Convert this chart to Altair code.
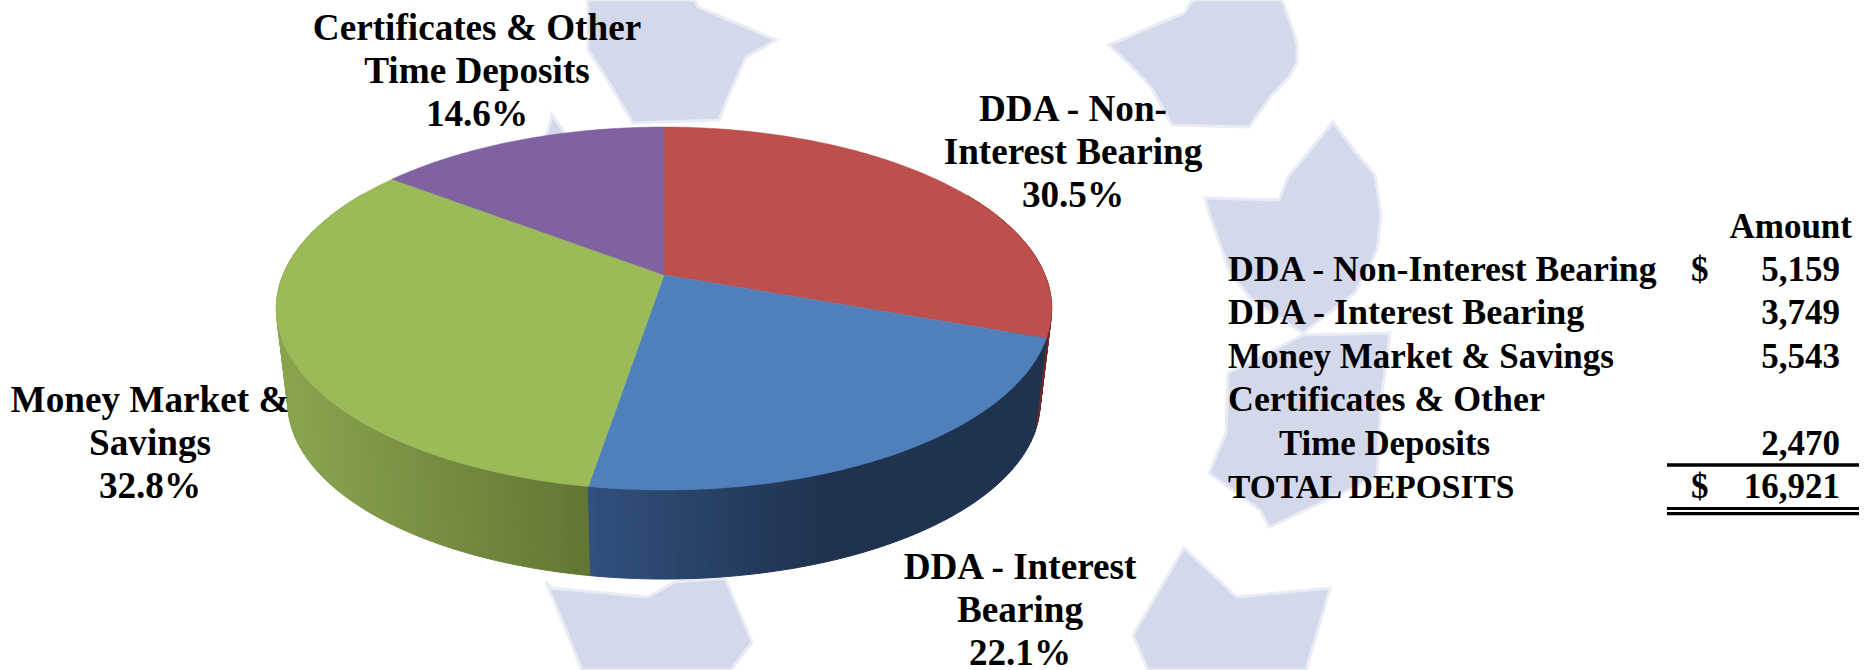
import math
import altair as alt

# Deposit mix, clockwise from twelve o'clock
slice_names = ["DDA - Non-Interest Bearing", "DDA - Interest Bearing",
               "Money Market & Savings", "Certificates & Other Time Deposits"]
slice_shares = [30.5, 22.1, 32.8, 14.6]
top_colors = ["#bd504d", "#4f80bc", "#9bbb59", "#8062a0"]

# Table contents
table_labels = ["DDA - Non-Interest Bearing", "DDA - Interest Bearing",
                "Money Market & Savings", "Certificates & Other",
                "Time Deposits", "TOTAL DEPOSITS"]
table_amounts = ["5,159", "3,749", "5,543", "", "2,470", "16,921"]
table_dollars = ["$", "", "", "", "", "$"]

# Slice captions: one entry per line
caption_lines = [
    ["DDA - Non-", "Interest Bearing", "30.5%"],
    ["DDA - Interest", "Bearing", "22.1%"],
    ["Money Market &", "Savings", "32.8%"],
    ["Certificates & Other", "Time Deposits", "14.6%"],
]

# Page layout
W, H = 1872, 670
FONT = "Liberation Serif"
CAPTION_SIZE = 37.2
AMOUNT_SIZE = 35
label_sizes = [35.7, 36, 35, 35.9, 34.8, 33.5]
caption_anchor = [(1073, 121), (1020, 579), (150, 412), (477, 40)]
caption_step = 43
table_first_row = 281
table_step = 43.4
table_left, table_indent = 1228, 1279
dollar_x, amount_right, header_right = 1691, 1840, 1852

# Perspective tilt of the disc
CX, CY = 664, 275
RX, RY = 381, 175.3
TILT = 0.1846
FLOOR_Y, FLOOR_SCALE = 370.5, 0.97


def project(deg, floor=False):
    a = math.radians(deg)
    u, v = math.sin(a), math.cos(a)
    w = 1 + TILT * v
    if floor:
        return [CX + RX * FLOOR_SCALE * u / w, FLOOR_Y - RY * FLOOR_SCALE * v / w]
    return [CX + RX * u / w, CY - RY * v / w]


def mix(c0, c1, t):
    t = max(0.0, min(1.0, t))
    rgb0 = [int(c0[i:i + 2], 16) for i in (1, 3, 5)]
    rgb1 = [int(c1[i:i + 2], 16) for i in (1, 3, 5)]
    return "#" + "".join(f"{round(a + (b - a) * t):02x}" for a, b in zip(rgb0, rgb1))


def rim_color(index, x):
    if index == 0:
        return "#6e2a28"
    if index == 1:
        return mix("#30507d", "#1f324e", (x - 590) / 240)
    return mix("#8aa44e", "#637735", (x - 285) / 300)


def feature(ring, fill):
    return {"type": "Feature", "properties": {"fill": fill},
            "geometry": {"type": "Polygon", "coordinates": [ring + [ring[0]]]}}


# Slice boundaries in degrees, from the shares
edges = [0.0]
for share in slice_shares:
    edges.append(edges[-1] + share * 3.6)

top_features = []
rim_pieces = []
for i, color in enumerate(top_colors):
    start, end = edges[i], edges[i + 1]
    steps = max(2, int(end - start))
    angles = [start + (end - start) * s / steps for s in range(steps + 1)]
    top_features.append(feature([[CX, CY]] + [project(a) for a in angles], color))
    if i < 3:
        for a0, a1 in zip(angles[:-1], angles[1:]):
            if 60 < a0 < 300:
                ring = [project(a0), project(a1), project(a1, True), project(a0, True)]
                mid_x = (ring[0][0] + ring[1][0]) / 2
                rim_pieces.append((math.cos(math.radians(a0)), feature(ring, rim_color(i, mid_x))))
rim_pieces.sort(key=lambda p: -p[0])
rim_features = [p[1] for p in rim_pieces]

# Pale decorative ribbon shapes behind the chart
ribbons = [
    [(588, 0), (588, 50), (603, 73), (633, 123), (719, 120), (728, 97), (746, 57), (776, 40), (698, 7), (695, 0)],
    [(552, 115), (545, 140), (570, 140)],
    [(1193, 0), (1184, 13), (1109, 45), (1130, 65), (1151, 87), (1172, 125), (1249, 127), (1270, 97), (1288, 78),
     (1297, 63), (1297, 45), (1294, 33), (1282, 0)],
    [(1333, 122), (1310, 150), (1288, 177), (1279, 200), (1205, 198), (1209, 213), (1230, 273), (1252, 300), (1303, 333),
     (1355, 293), (1377, 250), (1381, 215), (1375, 175), (1354, 150)],
    [(1228, 373), (1303, 335), (1390, 333), (1381, 400), (1377, 477), (1269, 527), (1260, 510), (1209, 473), (1226, 433)],
    [(546, 582), (552, 588), (648, 597), (675, 582), (725, 578), (752, 642), (731, 670), (582, 670), (564, 625)],
    [(1184, 548), (1133, 635), (1148, 670), (1306, 670), (1330, 588), (1237, 597)],
]
ribbon_features = [feature([list(p) for p in r], "#d3d9ea") for r in ribbons]


def shapes(features, stroke_width):
    return (
        alt.Chart(alt.Data(values=features))
        .mark_geoshape(strokeWidth=stroke_width)
        .encode(fill=alt.Fill("properties.fill:N", scale=None),
                stroke=alt.Stroke("properties.fill:N", scale=None))
        .project(type="identity", scale=1, translate=[0, 0])
    )


def text_layer(rows, align):
    return (
        alt.Chart(alt.Data(values=rows))
        .mark_text(font=FONT, fontWeight="bold", color="black",
                   align=align, baseline="alphabetic")
        .encode(x=alt.X("x:Q", scale=None, axis=None),
                y=alt.Y("y:Q", scale=None, axis=None),
                size=alt.Size("s:Q", scale=None),
                text="t:N")
    )


caption_rows = []
for lines, (ax, ay) in zip(caption_lines, caption_anchor):
    for n, line in enumerate(lines):
        caption_rows.append({"x": ax, "y": ay + n * caption_step, "t": line, "s": CAPTION_SIZE})

left_rows = []
right_rows = [{"x": header_right, "y": table_first_row - table_step, "t": "Amount", "s": AMOUNT_SIZE}]
for n, (label, amount, dollar) in enumerate(zip(table_labels, table_amounts, table_dollars)):
    y = table_first_row + n * table_step
    x = table_indent if label == "Time Deposits" else table_left
    left_rows.append({"x": x, "y": y, "t": label, "s": label_sizes[n]})
    if amount:
        right_rows.append({"x": amount_right, "y": y, "t": amount, "s": AMOUNT_SIZE})
    if dollar:
        left_rows.append({"x": dollar_x, "y": y, "t": dollar, "s": AMOUNT_SIZE})

rule_rows = [
    {"x": 1667, "x2": 1859, "y": 465, "w": 3.6},
    {"x": 1667, "x2": 1859, "y": 508.5, "w": 3.2},
    {"x": 1667, "x2": 1859, "y": 513.7, "w": 3.2},
]
rules = (
    alt.Chart(alt.Data(values=rule_rows))
    .mark_rule(color="black")
    .encode(x=alt.X("x:Q", scale=None, axis=None), x2="x2:Q",
            y=alt.Y("y:Q", scale=None, axis=None),
            strokeWidth=alt.StrokeWidth("w:Q", scale=None))
)

chart = (
    alt.layer(
        shapes(ribbon_features, 3).encode(stroke=alt.value("#e9ecf5")),
        shapes(rim_features, 1),
        shapes(top_features, 0.5),
        text_layer(caption_rows, "center"),
        text_layer(left_rows, "left"),
        text_layer(right_rows, "right"),
        rules,
    )
    .properties(width=W, height=H, padding=0, autosize=alt.AutoSizeParams(type="none"), background="white")
    .configure_view(stroke=None)
)

chart.save("out.html", embed_options={"renderer": "svg", "actions": False})
